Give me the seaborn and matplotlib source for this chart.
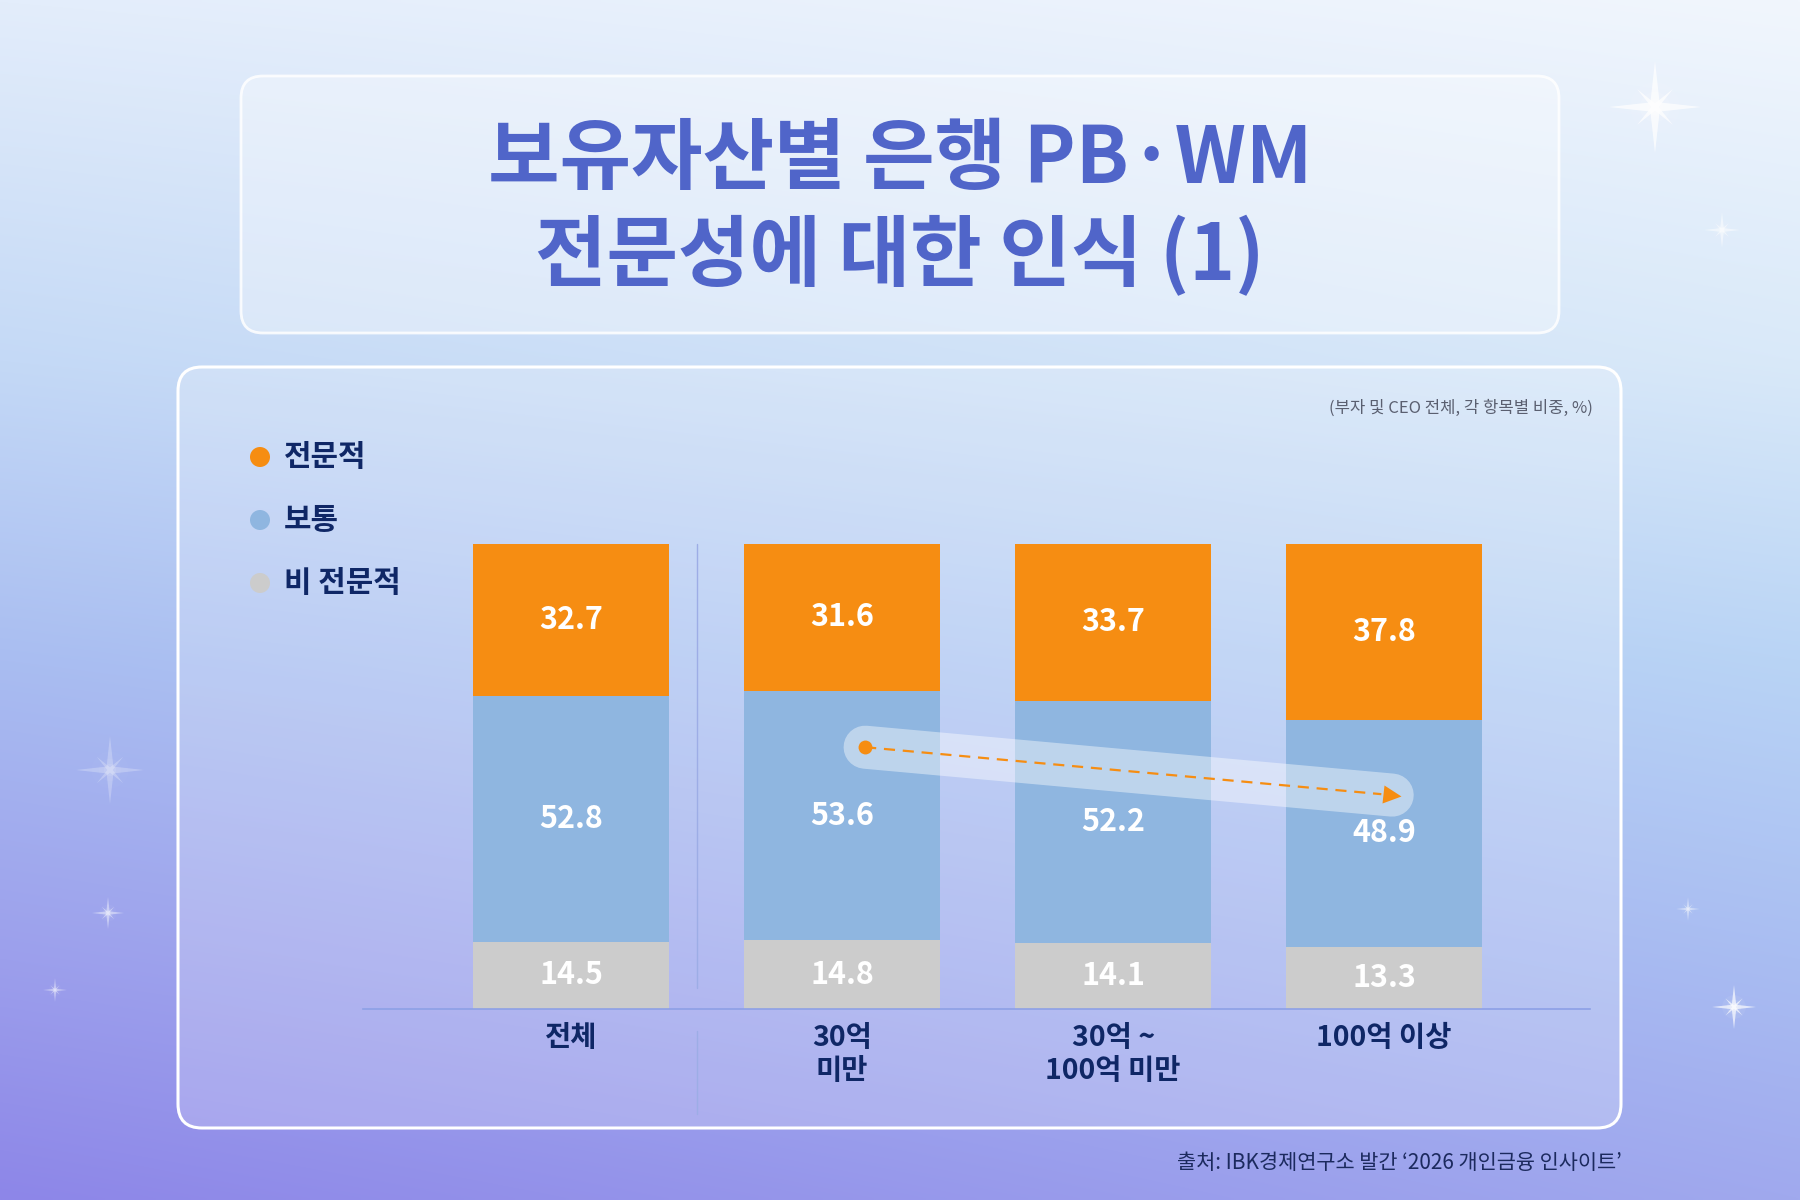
import numpy as np
import pandas as pd
import matplotlib
matplotlib.use("Agg")
import matplotlib.pyplot as plt
import seaborn as sns
from matplotlib.patches import FancyBboxPatch, Circle, Polygon
from matplotlib.colors import to_rgb
from matplotlib.markers import MarkerStyle
from matplotlib.transforms import Affine2D

# ---- data ----
groups = ["전체", "30억\n미만", "30억 ~\n100억 미만", "100억 이상"]
pro = [32.7, 31.6, 33.7, 37.8]       # 전문적
normal = [52.8, 53.6, 52.2, 48.9]    # 보통
nonpro = [14.5, 14.8, 14.1, 13.3]    # 비 전문적
legend_labels = ["전문적", "보통", "비 전문적"]

title_lines = ["보유자산별 은행 PB·WM", "전문성에 대한 인식 (1)"]
note = "(부자 및 CEO 전체, 각 항목별 비중, %)"
source = "출처: IBK경제연구소 발간 \u20182026 개인금융 인사이트\u2019"

# trend arrow (group index, value) start -> end
trend_start = (1.085, 56.3)
trend_end = (3.03, 46.0)

c_pro = "#f68d12"
c_normal = "#8fb6e0"
c_nonpro = "#cccccc"
navy = "#0f2766"

sns.set_theme(style="white")
plt.rcParams["font.family"] = ["Noto Sans CJK KR", "DejaVu Sans"]

df = pd.DataFrame({"group": groups, "pro": pro, "normal": normal, "nonpro": nonpro})
df["top_nonpro"] = df["nonpro"]
df["top_normal"] = df["nonpro"] + df["normal"]
df["top_pro"] = df["top_normal"] + df["pro"]

fig = plt.figure(figsize=(18, 12), dpi=100)

# ---- background (pixel coordinates) ----
bg = fig.add_axes([0, 0, 1, 1], zorder=0)
bg.set_xlim(0, 1800)
bg.set_ylim(1200, 0)
bg.axis("off")

stops = [0.0, 0.3, 0.55, 0.8, 1.0]
left_cols = ["#e3edfb", "#c4d9f6", "#a9bdf1", "#9c9fec", "#8d86e8"]
right_cols = ["#f1f6fd", "#d9e9f9", "#b9d4f5", "#a9bdf2", "#a0a9ee"]
H, W = 300, 450
yy = np.linspace(0, 1, H)
xx = np.linspace(0, 1, W)
L = np.stack([np.interp(yy, stops, [to_rgb(c)[k] for c in left_cols]) for k in range(3)], axis=1)
R = np.stack([np.interp(yy, stops, [to_rgb(c)[k] for c in right_cols]) for k in range(3)], axis=1)
img = L[:, None, :] * (1 - xx[None, :, None]) + R[:, None, :] * xx[None, :, None]
bg.imshow(img, extent=(0, 1800, 1200, 0), aspect="auto", interpolation="bilinear", zorder=0)


def sparkle(ax, x, y, r, a=1.0):
    for k, al in [(0.9, 0.06), (0.55, 0.10), (0.3, 0.22)]:
        ax.add_patch(Circle((x, y), r * k * 0.6, color="white", alpha=al * a, lw=0, zorder=1))
    for ang, rr in [(0, r), (45, r * 0.55)]:
        w = rr * 0.1
        pts = np.array([[rr, 0], [w, w], [0, rr], [-w, w], [-rr, 0], [-w, -w], [0, -rr], [w, -w]])
        t = np.deg2rad(ang)
        rot = np.array([[np.cos(t), -np.sin(t)], [np.sin(t), np.cos(t)]])
        pts = pts @ rot.T + [x, y]
        ax.add_patch(Polygon(pts, closed=True, color="white", alpha=0.7 * a, lw=0, zorder=1))


sparkle(bg, 1655, 107, 46, 1.0)
sparkle(bg, 1722, 230, 18, 0.7)
sparkle(bg, 110, 770, 34, 0.35)
sparkle(bg, 108, 913, 16, 0.6)
sparkle(bg, 55, 990, 12, 0.55)
sparkle(bg, 1688, 909, 12, 0.6)
sparkle(bg, 1734, 1007, 22, 0.95)

# title box
bg.add_patch(FancyBboxPatch((241, 76), 1318, 257, boxstyle="round,pad=0,rounding_size=22",
                            facecolor=(1, 1, 1, 0.33), edgecolor=(1, 1, 1, 0.85), lw=2, zorder=2))
bg.text(900, 160, title_lines[0], ha="center", va="center", fontsize=56, weight="black",
        color="#5065c9", zorder=3)
bg.text(900, 257, title_lines[1], ha="center", va="center", fontsize=56, weight="black",
        color="#5065c9", zorder=3)

# chart panel
bg.add_patch(FancyBboxPatch((178, 367), 1443, 761, boxstyle="round,pad=0,rounding_size=24",
                            facecolor=(1, 1, 1, 0.2), edgecolor="white", lw=2.2, zorder=2))
bg.text(1593, 408, note, ha="right", va="center", fontsize=12, color="#5a5f70", zorder=3)

# legend
for yv, col, lab in zip([457, 520, 583], [c_pro, c_normal, c_nonpro], legend_labels):
    bg.add_patch(Circle((260, yv), 10, color=col, lw=0, zorder=3))
    bg.text(284, yv, lab, ha="left", va="center", fontsize=21.5, weight="bold", color=navy, zorder=3)

# separator line
bg.plot([697, 697], [544, 988], color="#9dade6", lw=1, zorder=2)
bg.plot([697, 697], [1031, 1114], color="#9dade6", lw=1, zorder=2)

# source
bg.text(1622, 1163, source, ha="right", va="center", fontsize=15, color="#1c2a5e", zorder=3)

# ---- chart ----
ax = fig.add_axes([363 / 1800, 1 - 1009 / 1200, (1590 - 363) / 1800, (1009 - 544) / 1200], zorder=5)
ax.patch.set_alpha(0)

bw = 0.723
sns.barplot(data=df, x="group", y="top_pro", color=c_pro, saturation=1, width=bw, linewidth=0, ax=ax)
sns.barplot(data=df, x="group", y="top_normal", color=c_normal, saturation=1, width=bw, linewidth=0, ax=ax)
sns.barplot(data=df, x="group", y="top_nonpro", color=c_nonpro, saturation=1, width=bw, linewidth=0, ax=ax)

ax.set_xlim(-0.768, 3.76)
ax.set_ylim(0, 100)
ax.set_xlabel("")
ax.set_ylabel("")
ax.set_yticks([])
ax.tick_params(axis="x", length=0, pad=11)
for lbl in ax.get_xticklabels():
    lbl.set_fontsize(20.5)
    lbl.set_fontweight("bold")
    lbl.set_color(navy)
    lbl.set_linespacing(1.2)
for s in ["top", "right", "left"]:
    ax.spines[s].set_visible(False)
ax.spines["bottom"].set_color("#8da0e6")
ax.spines["bottom"].set_linewidth(1.2)

for i in range(len(groups)):
    for val, mid in [(nonpro[i], nonpro[i] / 2),
                     (normal[i], nonpro[i] + normal[i] / 2),
                     (pro[i], nonpro[i] + normal[i] + pro[i] / 2)]:
        ax.text(i, mid, f"{val:.1f}", ha="center", va="center", fontsize=22,
                weight="bold", color="white", zorder=6)

# trend band + dashed arrow
ax.plot([trend_start[0], trend_end[0]], [trend_start[1], trend_end[1]], color="white",
        alpha=0.42, lw=31, solid_capstyle="round", zorder=7)
ax.plot([trend_start[0], trend_end[0] - 0.04], [trend_start[1], trend_end[1] + 0.2],
        color=c_pro, lw=1.6, ls=(0, (5, 3.5)), zorder=8)
ax.plot(*trend_start, "o", color=c_pro, ms=10, mec="none", zorder=9)
tri = MarkerStyle(">", transform=Affine2D().rotate_deg(-5.2))
ax.plot(*trend_end, marker=tri, color=c_pro, ms=13, mec="none", ls="none", zorder=9)

fig.savefig("out.png", dpi=100)
